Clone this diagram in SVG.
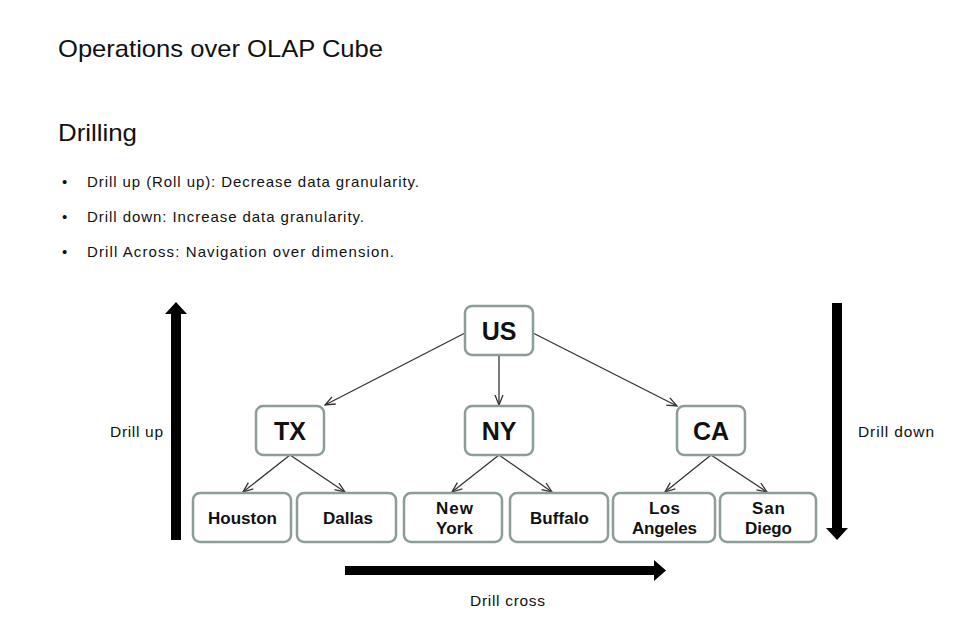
<svg xmlns="http://www.w3.org/2000/svg" width="977" height="643" viewBox="0 0 977 643">
<style>
text{font-family:"Liberation Sans",Arial,sans-serif;fill:#111}
.h{font-size:24px}
.b{font-size:15px}
.lbl{font-size:15.5px}
.node rect{fill:#fff;stroke:#8c9c96;stroke-width:2.5}
.big{font-size:25px;font-weight:bold;text-anchor:middle}
.city{font-size:17px;font-weight:bold;text-anchor:middle}
.edge{stroke:#333;stroke-width:1.3;fill:none;marker-end:url(#ah)}
</style>
<defs>
<marker id="ah" viewBox="0 0 12 10" refX="11" refY="5" markerWidth="12" markerHeight="10" markerUnits="userSpaceOnUse" orient="auto">
<path d="M1,1 L11,5 L1,9" fill="none" stroke="#333" stroke-width="1.3"/>
</marker>
</defs>
<rect width="977" height="643" fill="#fff"/>
<text class="h" x="58" y="57" textLength="325" lengthAdjust="spacingAndGlyphs">Operations over OLAP Cube</text>
<text class="h" x="58" y="141" textLength="79" lengthAdjust="spacingAndGlyphs">Drilling</text>
<text class="b" x="62" y="187">•</text>
<text class="b" x="87" y="187" textLength="332" lengthAdjust="spacing">Drill up (Roll up): Decrease data granularity.</text>
<text class="b" x="62" y="222">•</text>
<text class="b" x="87" y="222" textLength="277" lengthAdjust="spacing">Drill down: Increase data granularity.</text>
<text class="b" x="62" y="257">•</text>
<text class="b" x="87" y="257" textLength="307" lengthAdjust="spacing">Drill Across:  Navigation over dimension.</text>

<g id="big-arrows" fill="#000">
<path d="M171,540 L171,314 L165,314 L176,302 L187,314 L181,314 L181,540 Z"/>
<path d="M832,303 L842,303 L842,528 L848,528 L837,540 L826,528 L832,528 Z"/>
<path d="M345,566 L654,566 L654,560 L666,570.5 L654,581 L654,575 L345,575 Z"/>
</g>
<text class="lbl" x="110" y="437" textLength="53" lengthAdjust="spacing">Drill up</text>
<text class="lbl" x="858" y="437" textLength="76" lengthAdjust="spacing">Drill down</text>
<text class="lbl" x="470" y="606" textLength="75" lengthAdjust="spacing">Drill cross</text>

<g id="connectors">
<line class="edge" x1="465" y1="333" x2="325" y2="405"/>
<line class="edge" x1="499" y1="355" x2="499" y2="405"/>
<line class="edge" x1="533" y1="333" x2="677" y2="406"/>
<line class="edge" x1="290" y1="455" x2="243" y2="492"/>
<line class="edge" x1="290" y1="455" x2="345" y2="492"/>
<line class="edge" x1="499" y1="455" x2="452" y2="492"/>
<line class="edge" x1="499" y1="455" x2="552" y2="492"/>
<line class="edge" x1="711" y1="455" x2="665" y2="492"/>
<line class="edge" x1="711" y1="455" x2="767" y2="492"/>
</g>

<g id="US" class="node"><rect x="465" y="306" width="68" height="49" rx="7"/><text class="big" x="499" y="340">US</text></g>
<g id="TX" class="node"><rect x="256" y="406" width="68" height="49" rx="7"/><text class="big" x="290" y="440">TX</text></g>
<g id="NY" class="node"><rect x="465" y="406" width="68" height="49" rx="7"/><text class="big" x="499" y="440">NY</text></g>
<g id="CA" class="node"><rect x="677" y="406" width="68" height="49" rx="7"/><text class="big" x="711" y="440">CA</text></g>

<g id="Houston" class="node"><rect x="193" y="493" width="98" height="49" rx="7"/><text class="city" x="242.5" y="524" textLength="69" lengthAdjust="spacing">Houston</text></g>
<g id="Dallas" class="node"><rect x="297" y="493" width="99" height="49" rx="7"/><text class="city" x="348" y="524" textLength="50" lengthAdjust="spacing">Dallas</text></g>
<g id="NewYork" class="node"><rect x="404" y="493" width="98" height="49" rx="7"/><text class="city" x="454.5" y="514" textLength="37" lengthAdjust="spacing">New</text><text class="city" x="454.5" y="534" textLength="37" lengthAdjust="spacing">York</text></g>
<g id="Buffalo" class="node"><rect x="510" y="493" width="98" height="49" rx="7"/><text class="city" x="559.5" y="524" textLength="59" lengthAdjust="spacing">Buffalo</text></g>
<g id="LosAngeles" class="node"><rect x="613" y="493" width="102" height="49" rx="7"/><text class="city" x="664.5" y="514" textLength="31" lengthAdjust="spacing">Los</text><text class="city" x="664.5" y="534" textLength="65" lengthAdjust="spacing">Angeles</text></g>
<g id="SanDiego" class="node"><rect x="720" y="493" width="96" height="49" rx="7"/><text class="city" x="768.5" y="514" textLength="33" lengthAdjust="spacing">San</text><text class="city" x="768.5" y="534" textLength="47" lengthAdjust="spacing">Diego</text></g>
</svg>
